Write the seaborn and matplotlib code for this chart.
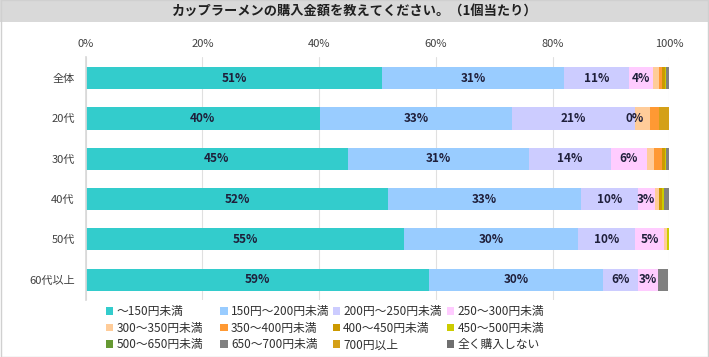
import numpy as np
import pandas as pd
import seaborn as sns
import matplotlib.pyplot as plt
from matplotlib.patches import Patch, Rectangle

# data (percent)
groups = ['全体', '20代', '30代', '40代', '50代', '60代以上']
price_bands = ['～150円未満', '150円～200円未満', '200円～250円未満', '250～300円未満',
               '300～350円未満', '350～400円未満', '400～450円未満', '450～500円未満',
               '500～650円未満', '650～700円未満', '700円以上', '全く購入しない']
under150 = [50.8, 40.1, 44.9, 51.8, 54.6, 58.8]
p150_200 = [31.1, 33.0, 31.1, 33.0, 29.8, 29.9]
p200_250 = [11.2, 21.0, 14.0, 9.8, 9.8, 6.0]
p250_300 = [4.1, 0.0, 6.1, 2.9, 4.9, 3.4]
p300_350 = [1.0, 2.6, 1.3, 0.7, 0.5, 0.0]
p350_400 = [0.5, 1.6, 1.3, 0.0, 0.0, 0.0]
p400_450 = [0.5, 0.0, 0.5, 0.6, 0.0, 0.0]
p450_500 = [0.3, 0.0, 0.2, 0.3, 0.7, 0.0]
p500_650 = [0.0, 0.0, 0.0, 0.0, 0.0, 0.0]
p650_700 = [0.5, 0.0, 0.6, 0.9, 0.0, 1.6]
over700 = [0.0, 1.7, 0.0, 0.0, 0.0, 0.0]
no_buy = [0.0, 0.0, 0.0, 0.0, 0.0, 0.0]
labelled = 4  # only the first four bands get value labels

colors = ['#33CCCC', '#99CCFF', '#CCCCFF', '#FFCCFF', '#FFCC99', '#FF9933',
          '#CC9900', '#CCCC00', '#669933', '#808080', '#D4A017', '#6F6F6F']

series = [under150, p150_200, p200_250, p250_300, p300_350, p350_400,
          p400_450, p450_500, p500_650, p650_700, over700, no_buy]

sns.set_theme(style='white')
plt.rcParams['font.family'] = ['Noto Sans CJK JP', 'DejaVu Sans']

df = pd.DataFrame(np.array(series).T, columns=price_bands)
df.insert(0, 'group', groups)
cum = df[price_bands].cumsum(axis=1)

fig = plt.figure(figsize=(7.09, 3.57), dpi=100)
ax = fig.add_axes([0.121, 0.16, 0.823, 0.68])

# stacked bars: draw cumulative totals from the outermost band inwards
for i in range(len(price_bands) - 1, -1, -1):
    d = pd.DataFrame({'group': groups, 'val': cum[price_bands[i]].values})
    sns.barplot(data=d, x='val', y='group', orient='h', color=colors[i],
                saturation=1, width=0.55, ax=ax, linewidth=0)

# value labels
for r in range(len(groups)):
    for i in range(labelled):
        v = df[price_bands[i]].iloc[r]
        center = cum[price_bands[i]].iloc[r] - v / 2
        ax.text(center, r, f'{round(v):d}%', ha='center', va='center',
                fontsize=8.5, fontweight='bold', color='#1F1F3A')

ax.set_xlim(0, 100)
ax.set_ylim(len(groups) - 0.5, -0.52)
ax.set_xticks(range(0, 101, 20))
ax.set_xticklabels([f'{t}%' for t in range(0, 101, 20)])
ax.xaxis.tick_top()
ax.tick_params(axis='x', length=0, pad=6, labelsize=8, colors='#404040')
ax.tick_params(axis='y', length=0, pad=8, labelsize=8, colors='#404040')
ax.set_xlabel('')
ax.set_ylabel('')
ax.grid(axis='x', color='#E0E0E0', linewidth=0.8)
ax.set_axisbelow(True)
for s in ['top', 'right', 'bottom']:
    ax.spines[s].set_visible(False)
ax.spines['left'].set_color('#D9D9D9')

# title band
fig.patches.append(Rectangle((0, 1 - 22 / 357), 1, 22 / 357, transform=fig.transFigure,
                             facecolor='#D9D9D9', edgecolor='none', zorder=0))
fig.text(0.5, 1 - 11 / 357, 'カップラーメンの購入金額を教えてください。（1個当たり）',
         ha='center', va='center', fontsize=9.5, fontweight='bold', color='#202020')

# legend: one column per block of entries, row-major like the original
col_x = [0.150, 0.311, 0.469, 0.630]
for c in range(4):
    handles = [Patch(facecolor=colors[k], edgecolor='none', label=price_bands[k])
               for k in range(c, len(price_bands), 4)]
    fig.legend(handles=handles, ncol=1, loc='upper left', bbox_to_anchor=(col_x[c], 0.145),
               frameon=False, fontsize=8.5, handlelength=0.6, handleheight=0.6,
               handletextpad=0.3, labelspacing=0.3, borderpad=0, borderaxespad=0,
               labelcolor='#303030')

fig.patches.append(Rectangle((0.001, 0.001), 0.998, 0.998, transform=fig.transFigure,
                             facecolor='none', edgecolor='#D0D0D0', linewidth=1))

fig.savefig('out.png', dpi=100)
